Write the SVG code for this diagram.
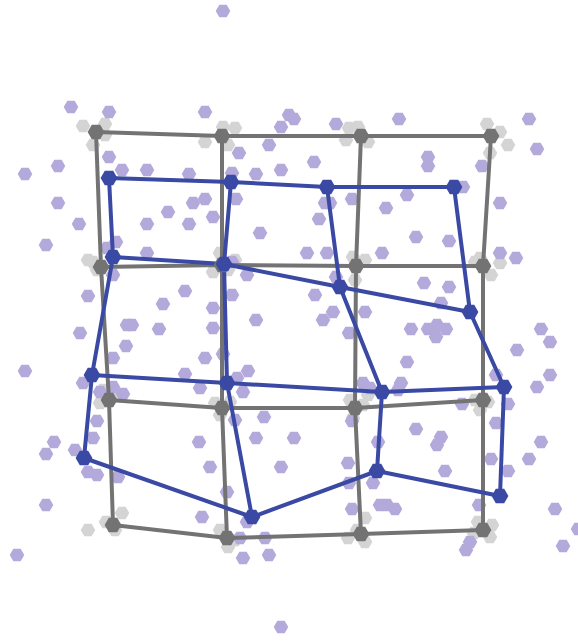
<svg xmlns="http://www.w3.org/2000/svg" xmlns:xlink="http://www.w3.org/1999/xlink" width="578" height="642" viewBox="0 0 578 642">
<style>
.p{fill:#b3aadb}
.q{fill:#d4d4d4}
.ge{stroke:#737373;stroke-width:4;fill:none;stroke-linejoin:round}
.be{stroke:#3a49a3;stroke-width:4;fill:none;stroke-linejoin:round}
.gn{fill:#737373}
.bn{fill:#3a49a3}
</style>
<defs>
<polygon id="h" points="7.3,0 3.65,6.32 -3.65,6.32 -7.3,0 -3.65,-6.32 3.65,-6.32"/>
<polygon id="n" points="8.4,0 4.2,7.27 -4.2,7.27 -8.4,0 -4.2,-7.27 4.2,-7.27"/>
</defs>
<rect width="578" height="642" fill="#ffffff"/>
<g id="gray-points" class="q">
<use href="#h" x="83" y="126"/><use href="#h" x="105" y="124"/><use href="#h" x="93" y="145"/><use href="#h" x="105" y="135"/>
<use href="#h" x="223" y="127"/><use href="#h" x="235" y="128"/><use href="#h" x="205" y="142"/><use href="#h" x="228" y="145"/>
<use href="#h" x="349" y="128"/><use href="#h" x="358" y="127"/><use href="#h" x="368" y="142"/><use href="#h" x="346" y="140"/>
<use href="#h" x="487" y="124"/><use href="#h" x="500" y="132"/><use href="#h" x="508" y="145"/><use href="#h" x="490" y="153"/>
<use href="#h" x="88" y="260"/><use href="#h" x="97" y="270"/><use href="#h" x="93" y="262"/>
<use href="#h" x="220" y="253"/><use href="#h" x="235" y="260"/><use href="#h" x="213" y="272"/><use href="#h" x="228" y="270"/>
<use href="#h" x="353" y="257"/><use href="#h" x="365" y="260"/><use href="#h" x="355" y="280"/>
<use href="#h" x="480" y="258"/><use href="#h" x="491" y="275"/><use href="#h" x="475" y="262"/><use href="#h" x="500" y="263"/>
<use href="#h" x="100" y="403"/><use href="#h" x="113" y="395"/><use href="#h" x="103" y="390"/>
<use href="#h" x="215" y="403"/><use href="#h" x="230" y="402"/><use href="#h" x="220" y="415"/>
<use href="#h" x="363" y="405"/><use href="#h" x="353" y="418"/><use href="#h" x="350" y="400"/><use href="#h" x="368" y="395"/>
<use href="#h" x="475" y="400"/><use href="#h" x="488" y="402"/><use href="#h" x="480" y="410"/>
<use href="#h" x="88" y="530"/><use href="#h" x="106" y="522"/><use href="#h" x="122" y="513"/><use href="#h" x="115" y="530"/>
<use href="#h" x="220" y="530"/><use href="#h" x="228" y="547"/><use href="#h" x="235" y="540"/>
<use href="#h" x="365" y="518"/><use href="#h" x="348" y="538"/><use href="#h" x="365" y="542"/><use href="#h" x="357" y="530"/>
<use href="#h" x="474" y="533"/><use href="#h" x="490" y="537"/><use href="#h" x="492" y="525"/><use href="#h" x="478" y="522"/>
</g>
<g id="purple-points" class="p">
<use href="#h" x="223" y="11"/>
<use href="#h" x="71" y="107"/><use href="#h" x="109" y="112"/><use href="#h" x="205" y="112"/><use href="#h" x="289" y="115"/><use href="#h" x="294" y="119"/><use href="#h" x="281" y="127"/><use href="#h" x="336" y="124"/><use href="#h" x="399" y="119"/><use href="#h" x="529" y="119"/>
<use href="#h" x="537" y="149"/><use href="#h" x="109" y="157"/><use href="#h" x="269" y="145"/><use href="#h" x="239" y="153"/><use href="#h" x="314" y="162"/><use href="#h" x="428" y="157"/><use href="#h" x="428" y="166"/><use href="#h" x="482" y="166"/>
<use href="#h" x="58" y="166"/><use href="#h" x="25" y="174"/><use href="#h" x="122" y="170"/><use href="#h" x="147" y="170"/><use href="#h" x="189" y="174"/><use href="#h" x="232" y="173"/><use href="#h" x="256" y="174"/><use href="#h" x="281" y="170"/>
<use href="#h" x="463" y="187"/><use href="#h" x="407" y="195"/><use href="#h" x="386" y="208"/><use href="#h" x="500" y="203"/>
<use href="#h" x="58" y="203"/><use href="#h" x="193" y="203"/><use href="#h" x="205" y="199"/><use href="#h" x="236" y="199"/><use href="#h" x="168" y="212"/><use href="#h" x="213" y="217"/><use href="#h" x="325" y="203"/><use href="#h" x="330" y="203"/><use href="#h" x="352" y="199"/><use href="#h" x="319" y="219"/>
<use href="#h" x="79" y="224"/><use href="#h" x="147" y="224"/><use href="#h" x="189" y="224"/><use href="#h" x="260" y="233"/><use href="#h" x="416" y="237"/><use href="#h" x="449" y="241"/>
<use href="#h" x="46" y="245"/><use href="#h" x="116" y="242"/><use href="#h" x="107" y="248"/><use href="#h" x="147" y="253"/><use href="#h" x="307" y="253"/><use href="#h" x="327" y="253"/><use href="#h" x="382" y="253"/><use href="#h" x="500" y="253"/><use href="#h" x="516" y="258"/>
<use href="#h" x="232" y="262"/><use href="#h" x="113" y="275"/><use href="#h" x="247" y="275"/><use href="#h" x="336" y="277"/><use href="#h" x="424" y="283"/><use href="#h" x="449" y="287"/>
<use href="#h" x="88" y="296"/><use href="#h" x="185" y="291"/><use href="#h" x="232" y="295"/><use href="#h" x="315" y="295"/><use href="#h" x="163" y="304"/><use href="#h" x="213" y="308"/><use href="#h" x="441" y="303"/><use href="#h" x="333" y="312"/><use href="#h" x="365" y="312"/>
<use href="#h" x="256" y="320"/><use href="#h" x="323" y="320"/><use href="#h" x="127" y="325"/><use href="#h" x="132" y="325"/><use href="#h" x="159" y="329"/><use href="#h" x="80" y="333"/><use href="#h" x="213" y="328"/><use href="#h" x="349" y="333"/>
<use href="#h" x="411" y="329"/><use href="#h" x="428" y="329"/><use href="#h" x="437" y="325"/><use href="#h" x="446" y="329"/><use href="#h" x="436" y="337"/><use href="#h" x="541" y="329"/><use href="#h" x="550" y="342"/><use href="#h" x="517" y="350"/>
<use href="#h" x="126" y="346"/><use href="#h" x="113" y="358"/><use href="#h" x="205" y="358"/><use href="#h" x="223" y="354"/><use href="#h" x="407" y="362"/>
<use href="#h" x="25" y="371"/><use href="#h" x="185" y="374"/><use href="#h" x="248" y="371"/><use href="#h" x="237" y="378"/><use href="#h" x="496" y="375"/><use href="#h" x="550" y="375"/>
<use href="#h" x="83" y="383"/><use href="#h" x="100" y="392"/><use href="#h" x="113" y="387"/><use href="#h" x="123" y="394"/><use href="#h" x="200" y="388"/><use href="#h" x="243" y="392"/><use href="#h" x="363" y="383"/><use href="#h" x="370" y="388"/><use href="#h" x="401" y="383"/><use href="#h" x="398" y="390"/><use href="#h" x="537" y="387"/>
<use href="#h" x="462" y="404"/><use href="#h" x="508" y="404"/><use href="#h" x="264" y="417"/><use href="#h" x="235" y="420"/><use href="#h" x="97" y="421"/><use href="#h" x="352" y="421"/><use href="#h" x="496" y="423"/><use href="#h" x="416" y="429"/>
<use href="#h" x="93" y="438"/><use href="#h" x="54" y="442"/><use href="#h" x="46" y="454"/><use href="#h" x="75" y="450"/><use href="#h" x="199" y="442"/><use href="#h" x="256" y="438"/><use href="#h" x="294" y="438"/><use href="#h" x="378" y="442"/><use href="#h" x="441" y="437"/><use href="#h" x="437" y="445"/><use href="#h" x="541" y="442"/>
<use href="#h" x="88" y="472"/><use href="#h" x="97" y="475"/><use href="#h" x="118" y="477"/><use href="#h" x="210" y="467"/><use href="#h" x="281" y="467"/><use href="#h" x="348" y="463"/><use href="#h" x="445" y="471"/><use href="#h" x="491" y="459"/><use href="#h" x="529" y="459"/><use href="#h" x="508" y="471"/>
<use href="#h" x="227" y="492"/><use href="#h" x="349" y="483"/><use href="#h" x="373" y="483"/>
<use href="#h" x="46" y="505"/><use href="#h" x="202" y="517"/><use href="#h" x="247" y="522"/><use href="#h" x="352" y="509"/><use href="#h" x="380" y="505"/><use href="#h" x="387" y="505"/><use href="#h" x="395" y="509"/><use href="#h" x="479" y="505"/><use href="#h" x="555" y="509"/><use href="#h" x="578" y="529"/>
<use href="#h" x="240" y="538"/><use href="#h" x="265" y="538"/><use href="#h" x="470" y="542"/><use href="#h" x="466" y="550"/><use href="#h" x="563" y="546"/>
<use href="#h" x="17" y="555"/><use href="#h" x="243" y="558"/><use href="#h" x="269" y="555"/>
<use href="#h" x="281" y="627"/>
</g>
<g id="connectors">
<g id="gray-edges" class="ge">
<polyline points="96,132 222,136 361,136 491,136"/>
<polyline points="101,267 222,265 356,266 483,266"/>
<polyline points="109,400 222,408 355,408 483,400"/>
<polyline points="113,525 227,538 361,534 483,530"/>
<polyline points="96,132 101,267 109,400 113,525"/>
<polyline points="222,136 222,265 222,408 227,538"/>
<polyline points="361,136 356,266 355,408 361,534"/>
<polyline points="491,136 483,266 483,400 483,530"/>
</g>
<g id="blue-edges" class="be">
<polyline points="109,178 231,182 327,187 454,187"/>
<polyline points="113,257 224,264 340,287 470,312"/>
<polyline points="92,375 227,383 382,392 504,387"/>
<polyline points="84,458 252,517 377,471 500,496"/>
<polyline points="109,178 113,257 92,375 84,458"/>
<polyline points="231,182 224,264 227,383 252,517"/>
<polyline points="327,187 340,287 382,392 377,471"/>
<polyline points="454,187 470,312 504,387 500,496"/>
</g>
</g>
<g id="gray-nodes" class="gn">
<g id="g00"><use href="#n" x="96" y="132"/></g><g id="g01"><use href="#n" x="222" y="136"/></g><g id="g02"><use href="#n" x="361" y="136"/></g><g id="g03"><use href="#n" x="491" y="136"/></g>
<g id="g10"><use href="#n" x="101" y="267"/></g><g id="g11"><use href="#n" x="222" y="265"/></g><g id="g12"><use href="#n" x="356" y="266"/></g><g id="g13"><use href="#n" x="483" y="266"/></g>
<g id="g20"><use href="#n" x="109" y="400"/></g><g id="g21"><use href="#n" x="222" y="408"/></g><g id="g22"><use href="#n" x="355" y="408"/></g><g id="g23"><use href="#n" x="483" y="400"/></g>
<g id="g30"><use href="#n" x="113" y="525"/></g><g id="g31"><use href="#n" x="227" y="538"/></g><g id="g32"><use href="#n" x="361" y="534"/></g><g id="g33"><use href="#n" x="483" y="530"/></g>
</g>
<g id="blue-nodes" class="bn">
<g id="b00"><use href="#n" x="109" y="178"/></g><g id="b01"><use href="#n" x="231" y="182"/></g><g id="b02"><use href="#n" x="327" y="187"/></g><g id="b03"><use href="#n" x="454" y="187"/></g>
<g id="b10"><use href="#n" x="113" y="257"/></g><g id="b11"><use href="#n" x="224" y="264"/></g><g id="b12"><use href="#n" x="340" y="287"/></g><g id="b13"><use href="#n" x="470" y="312"/></g>
<g id="b20"><use href="#n" x="92" y="375"/></g><g id="b21"><use href="#n" x="227" y="383"/></g><g id="b22"><use href="#n" x="382" y="392"/></g><g id="b23"><use href="#n" x="504" y="387"/></g>
<g id="b30"><use href="#n" x="84" y="458"/></g><g id="b31"><use href="#n" x="252" y="517"/></g><g id="b32"><use href="#n" x="377" y="471"/></g><g id="b33"><use href="#n" x="500" y="496"/></g>
</g>
</svg>
